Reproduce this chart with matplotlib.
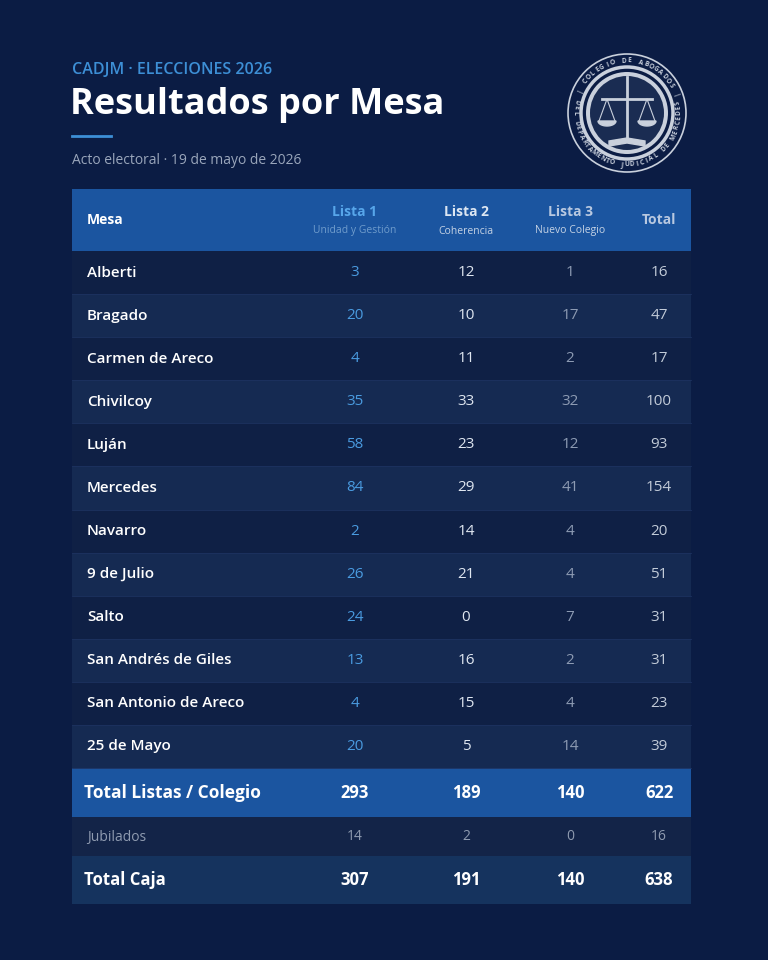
import matplotlib
matplotlib.use("Agg")
import matplotlib.pyplot as plt
import numpy as np
from matplotlib.patches import Rectangle, Circle

mesas = ["Alberti","Bragado","Carmen de Areco","Chivilcoy","Luján","Mercedes","Navarro",
         "9 de Julio","Salto","San Andrés de Giles","San Antonio de Areco","25 de Mayo"]
lista1 = [3,20,4,35,58,84,2,26,24,13,4,20]
lista2 = [12,10,11,33,23,29,14,21,0,16,15,5]
lista3 = [1,17,2,32,12,41,4,4,7,2,4,14]
total = [16,47,17,100,93,154,20,51,31,31,23,39]
tot_listas = [293,189,140,622]
jubilados = [14,2,0,16]
total_caja = [307,191,140,638]
headers = [("Lista 1","Unidad y Gestión"),("Lista 2","Coherencia"),("Lista 3","Nuevo Colegio")]

BG = "#0b1c44"
FONT = "Open Sans"
fig = plt.figure(figsize=(7.68,9.6), dpi=100, facecolor=BG)
ax = fig.add_axes([0,0,1,1]); ax.set_xlim(0,768); ax.set_ylim(960,0); ax.axis("off")
ax.set_facecolor(BG)

ax.text(72,70,"CADJM · ELECCIONES 2026",color="#3d8fd6",fontsize=11.5,fontfamily=FONT,va="center",fontweight="semibold")
ax.text(70,105,"Resultados por Mesa",color="white",fontsize=26,fontfamily=FONT,fontweight="bold",va="center")
ax.plot([72,111],[136,136],color="#3d8fd6",lw=2)
ax.text(72,160,"Acto electoral · 19 de mayo de 2026",color="#9aa6bb",fontsize=10,fontfamily=FONT,va="center")

# logo
cx, cy = 627,113
logo_c = "#c9d0dc"
ax.add_patch(Circle((cx,cy),59,fill=False,ec=logo_c,lw=1.2))
ax.add_patch(Circle((cx,cy),46,fill=False,ec=logo_c,lw=2.5))
ax.add_patch(Circle((cx,cy),41,fc=logo_c,ec="none"))
ax.add_patch(Circle((cx,cy),37,fc="#1a2c52",ec="none"))
ax.plot([cx,cx],[cy-36,cy+28],color=logo_c,lw=2)
ax.plot([cx-25,cx+25],[cy-14,cy-14],color=logo_c,lw=2)
for dx in (-20,20):
    ax.plot([cx+dx-8,cx+dx,cx+dx+8],[cy+8,cy-14,cy+8],color=logo_c,lw=0.8)
    th=np.linspace(0,np.pi,20)
    ax.fill(cx+dx+9*np.cos(th),cy+8+5*np.sin(th),color=logo_c)
ax.fill([cx-18,cx,cx+18,cx+18,cx,cx-18],[cy+28,cy+25,cy+28,cy+33,cy+30,cy+33],color=logo_c)
def arc_text(s, a0, a1, r, top=True):
    angs = np.linspace(a0,a1,len(s))
    for ch,a in zip(s,angs):
        x = cx + r*np.cos(np.radians(a)); y = cy - r*np.sin(np.radians(a))
        rot = a-90 if top else a+90
        ax.text(x,y,ch,color=logo_c,fontsize=4.8,fontfamily=FONT,fontweight="bold",ha="center",va="center",rotation=rot)
arc_text("| COLEGIO DE ABOGADOS |",155,20,52,True)
arc_text("DEL DEPARTAMENTO JUDICIAL DE MERCEDES",168,372,52,False)

# table
x0,x1 = 72,691
cols = [355,466,570,659]
ax.add_patch(Rectangle((x0,189),x1-x0,62,fc="#1b55a0",ec="none"))
ax.text(87,220,"Mesa",color="white",fontsize=10,fontfamily=FONT,fontweight="bold",va="center")
hc = ["#57a6ea","#dce6f2","#b8c8e0"]
sc = ["#6f9ccc","#c4d2e4","#c4d2e4"]
for i,(h,s) in enumerate(headers):
    ax.text(cols[i],212,h,color=hc[i],fontsize=10,fontfamily=FONT,fontweight="bold",ha="center",va="center")
    ax.text(cols[i],231,s,color=sc[i],fontsize=7.5,fontfamily=FONT,ha="center",va="center")
ax.text(cols[3],220,"Total",color="#b8c8e0",fontsize=10,fontfamily=FONT,fontweight="bold",ha="center",va="center")

rh = (768-251)/12
vc = ["#4a9be0","#dfe6f0","#8d9bb3","#c2cbd8"]
for r,m in enumerate(mesas):
    y = 251 + r*rh
    ax.add_patch(Rectangle((x0,y),x1-x0,rh,fc="#0f2045" if r%2==0 else "#152a52",ec="none"))
    ax.plot([x0,x1],[y+rh,y+rh],color="#1d3260",lw=0.6)
    yc = y+rh/2
    ax.text(87,yc,m,color="white",fontsize=11,fontfamily=FONT,fontweight="semibold",va="center")
    for c,v in enumerate([lista1[r],lista2[r],lista3[r],total[r]]):
        ax.text(cols[c],yc,str(v),color=vc[c],fontsize=11,fontfamily=FONT,ha="center",va="center")

ax.add_patch(Rectangle((x0,768),x1-x0,49,fc="#1b55a0",ec="none"))
ax.text(84,793,"Total Listas / Colegio",color="white",fontsize=12.5,fontfamily=FONT,fontweight="bold",va="center")
for c,v in enumerate(tot_listas):
    ax.text(cols[c],793,str(v),color="white",fontsize=12,fontfamily=FONT,fontweight="bold",ha="center",va="center")
ax.add_patch(Rectangle((x0,817),x1-x0,39,fc="#132448",ec="none"))
ax.text(87,837,"Jubilados",color="#8f9bb0",fontsize=10,fontfamily=FONT,va="center")
for c,v in enumerate(jubilados):
    ax.text(cols[c],837,str(v),color="#8f9bb0",fontsize=10,fontfamily=FONT,ha="center",va="center")
ax.add_patch(Rectangle((x0,856),x1-x0,48,fc="#15335e",ec="none"))
ax.text(84,880,"Total Caja",color="white",fontsize=12,fontfamily=FONT,fontweight="bold",va="center")
for c,v in enumerate(total_caja):
    ax.text(cols[c],880,str(v),color="white",fontsize=12,fontfamily=FONT,fontweight="bold",ha="center",va="center")

fig.savefig("out.png",dpi=100,facecolor=BG)
